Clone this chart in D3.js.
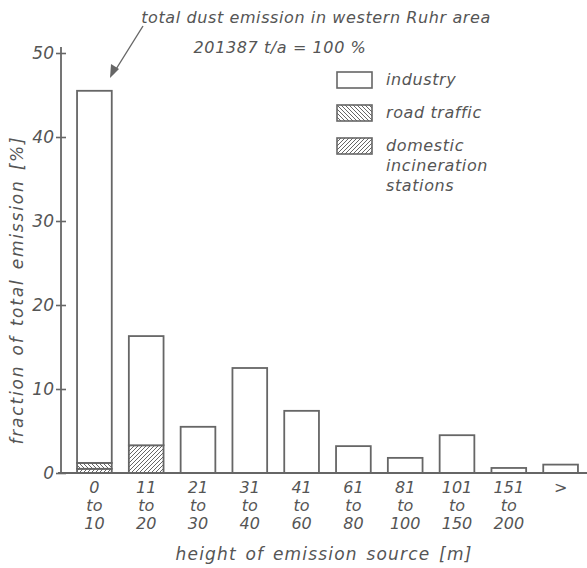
<!DOCTYPE html>
<html>
<head>
<meta charset="utf-8">
<script src="https://cdn.jsdelivr.net/npm/d3@7"></script>
<style>
  body { margin: 0; background: #fff; }
  svg text { font-family: "DejaVu Sans", sans-serif; font-style: italic; fill: #555; }
</style>
</head>
<body>
<div id="chart"></div>
<script>
// categories (height classes) and the three sources, in % of total emission
var categories = ["0-10", "11-20", "21-30", "31-40", "41-60", "61-80", "81-100", "101-150", "151-200", ">200"]
var tickLabels = [["0", "to", "10"], ["11", "to", "20"], ["21", "to", "30"], ["31", "to", "40"], ["41", "to", "60"],
                  ["61", "to", "80"], ["81", "to", "100"], ["101", "to", "150"], ["151", "to", "200"], [">"]]
var domestic = [0.5, 3.3, 0, 0, 0, 0, 0, 0, 0, 0]
var roadTraffic = [0.7, 0, 0, 0, 0, 0, 0, 0, 0, 0]
var industry = [44.3, 13.0, 5.5, 12.5, 7.4, 3.2, 1.8, 4.5, 0.6, 1.0]
var yTicks = [0, 10, 20, 30, 40, 50]

var width = 587
    height = 568
var ink = "#666"

var svg = d3.select("#chart").append("svg")
    .attr("width", width)
    .attr("height", height)

// hatch patterns
var defs = svg.append("defs")
function hatch(id, dir) {
  var p = defs.append("pattern")
      .attr("id", id)
      .attr("patternUnits", "userSpaceOnUse")
      .attr("width", 4).attr("height", 4)
  p.append("rect").attr("width", 4).attr("height", 4).attr("fill", "#fff")
  var d = dir > 0 ? "M-1,5 L5,-1 M-1,1 L1,-1 M3,5 L5,3" : "M-1,-1 L5,5 M3,-1 L5,1 M-1,3 L1,5"
  p.append("path").attr("d", d).attr("stroke", ink).attr("stroke-width", 1)
}
hatch("road", -1)
hatch("dom", 1)

var rows = categories.map(function(c, i) {
  return {cat: c, domestic: domestic[i], road: roadTraffic[i], industry: industry[i]}
})
var keys = ["domestic", "road", "industry"]
var fills = {domestic: "url(#dom)", road: "url(#road)", industry: "#fff"}
var series = d3.stack().keys(keys)(rows)

var x = d3.scaleBand()
    .domain(categories)
    .range([68.5, 586.5])
    .paddingInner(0.33)
    .paddingOuter(0.165)

var y = d3.scaleLinear()
    .domain([0, 50])
    .range([473, 53])

// bars
series.forEach(function(s) {
  svg.append("g").selectAll("rect")
    .data(s.filter(function(d) { return d[1] - d[0] > 0 }))
    .enter()
    .append("rect")
      .attr("x", function(d) { return x(d.data.cat) })
      .attr("width", x.bandwidth())
      .attr("y", function(d) { return y(d[1]) })
      .attr("height", function(d) { return y(d[0]) - y(d[1]) })
      .attr("fill", fills[s.key])
      .attr("stroke", ink)
      .attr("stroke-width", 1.8)
})

// y axis
var yAxis = svg.append("g")
    .attr("transform", "translate(61,0)")
    .call(d3.axisLeft(y).tickValues(yTicks).tickSize(5).tickSizeOuter(0).tickPadding(2))
yAxis.select(".domain").remove()
yAxis.selectAll(".tick line").attr("x1", -5).attr("x2", 5).attr("stroke", ink).attr("stroke-width", 1.6)
yAxis.selectAll(".tick text").style("font-size", "17px").attr("fill", "#555")
svg.append("line")
    .attr("x1", 61).attr("x2", 61)
    .attr("y1", 47).attr("y2", y(0) + 1)
    .attr("stroke", ink).attr("stroke-width", 1.8)

// x axis
svg.append("line")
    .attr("x1", 58).attr("x2", width)
    .attr("y1", y(0)).attr("y2", y(0))
    .attr("stroke", ink).attr("stroke-width", 1.8)

var xl = svg.append("g").selectAll("text")
  .data(categories)
  .enter()
  .append("text")
    .attr("text-anchor", "middle")
    .style("font-size", "16px")
    .attr("x", function(d) { return x(d) + x.bandwidth() / 2 })
    .attr("y", 493)
xl.selectAll("tspan")
  .data(function(d, i) { return tickLabels[i] })
  .enter()
  .append("tspan")
    .attr("x", function() { var p = d3.select(this.parentNode); return p.attr("x") })
    .attr("dy", function(d, i) { return i == 0 ? 0 : 18 })
    .text(function(d) { return d })

// axis titles
svg.append("text")
    .attr("x", 324).attr("y", 560)
    .attr("text-anchor", "middle")
    .style("font-size", "17px")
    .style("letter-spacing", "1.2px")
    .style("word-spacing", "2px")
    .text("height of emission source [m]")

svg.append("text")
    .attr("transform", "translate(23,290) rotate(-90)")
    .attr("text-anchor", "middle")
    .style("font-size", "17px")
    .style("letter-spacing", "1.8px")
    .style("word-spacing", "2px")
    .text("fraction of total emission [%]")

// annotation with arrow
svg.append("text")
    .attr("x", 316).attr("y", 23)
    .attr("text-anchor", "middle")
    .style("font-size", "16px")
    .style("letter-spacing", "0.6px")
    .text("total dust emission in western Ruhr area")
svg.append("text")
    .attr("x", 280).attr("y", 53)
    .attr("text-anchor", "middle")
    .style("font-size", "16px")
    .style("letter-spacing", "0.6px")
    .text("201387 t/a = 100 %")
svg.append("line")
    .attr("x1", 143).attr("y1", 26)
    .attr("x2", 113).attr("y2", 74)
    .attr("stroke", ink).attr("stroke-width", 1.4)
svg.append("path")
    .attr("d", "M110,78 L111,64 L119,69 Z")
    .attr("fill", ink)

// legend
var legendItems = [
  {key: "industry", lines: ["industry"]},
  {key: "road", lines: ["road traffic"]},
  {key: "domestic", lines: ["domestic", "incineration", "stations"]}
]
var lg = svg.append("g").selectAll("g")
  .data(legendItems)
  .enter()
  .append("g")
    .attr("transform", function(d, i) { return "translate(337," + (72 + i * 33) + ")" })
lg.append("rect")
    .attr("width", 35).attr("height", 16)
    .attr("fill", function(d) { return fills[d.key] })
    .attr("stroke", ink)
    .attr("stroke-width", 1.6)
lg.append("text")
    .style("font-size", "16px")
    .style("letter-spacing", "0.6px")
    .attr("y", 13)
  .selectAll("tspan")
  .data(function(d) { return d.lines })
  .enter()
  .append("tspan")
    .attr("x", 49)
    .attr("dy", function(d, i) { return i == 0 ? 0 : 20 })
    .text(function(d) { return d })
</script>
</body>
</html>
